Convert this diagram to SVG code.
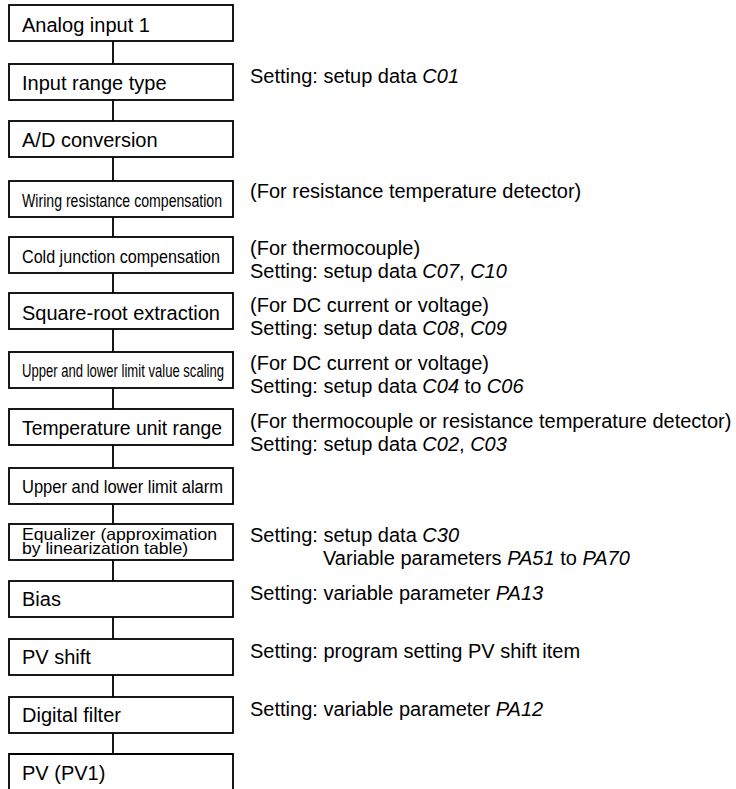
<svg xmlns="http://www.w3.org/2000/svg" width="736" height="789" viewBox="0 0 736 789">
<style>
.box{fill:#fff;stroke:#000;stroke-width:1.8}
.conn{stroke:#000;stroke-width:1.8;fill:none}
text{font-family:"Liberation Sans",Arial,Helvetica,sans-serif;fill:#000}
.lbl{font-size:20px}
.note{font-size:20px}
.it{font-style:italic}
</style>
<rect width="736" height="789" fill="#fff"/>
<g id="connectors">
<path class="conn" d="M113,41V64M113,100V121M113,157V181M113,217V237M113,273V293M113,329V352M113,388V409M113,445V468M113,504V524M113,560V581M113,617V639M113,675V697M113,733V754"/>
</g>
<g id="n1"><rect class="box" x="9" y="5" width="224" height="36"/><text class="lbl" x="22" y="32">Analog input 1</text></g>
<g id="n2"><rect class="box" x="9" y="64" width="224" height="36"/><text class="lbl" x="22" y="90">Input range type</text></g>
<g id="n3"><rect class="box" x="9" y="121" width="224" height="36"/><text class="lbl" x="22" y="147">A/D conversion</text></g>
<g id="n4"><rect class="box" x="9" y="181" width="224" height="36"/><text x="22" y="207" font-size="17.5" textLength="200" lengthAdjust="spacingAndGlyphs">Wiring resistance compensation</text></g>
<g id="n5"><rect class="box" x="9" y="237" width="224" height="36"/><text x="22" y="263" font-size="17.5" textLength="198" lengthAdjust="spacingAndGlyphs">Cold junction compensation</text></g>
<g id="n6"><rect class="box" x="9" y="293" width="224" height="36"/><text class="lbl" x="22" y="320">Square-root extraction</text></g>
<g id="n7"><rect class="box" x="9" y="352" width="224" height="36"/><text x="22" y="377" font-size="17.5" textLength="202" lengthAdjust="spacingAndGlyphs">Upper and lower limit value scaling</text></g>
<g id="n8"><rect class="box" x="9" y="409" width="224" height="36"/><text x="22" y="435" font-size="19.5" textLength="200" lengthAdjust="spacingAndGlyphs">Temperature unit range</text></g>
<g id="n9"><rect class="box" x="9" y="468" width="224" height="36"/><text x="22" y="493" font-size="18.5" textLength="201" lengthAdjust="spacingAndGlyphs">Upper and lower limit alarm</text></g>
<g id="n10"><rect class="box" x="9" y="524" width="224" height="36"/><text x="22" y="540" font-size="16.5" textLength="195" lengthAdjust="spacingAndGlyphs">Equalizer (approximation</text><text x="22" y="554" font-size="16.5" textLength="166" lengthAdjust="spacingAndGlyphs">by linearization table)</text></g>
<g id="n11"><rect class="box" x="9" y="581" width="224" height="36"/><text class="lbl" x="22" y="606">Bias</text></g>
<g id="n12"><rect class="box" x="9" y="639" width="224" height="36"/><text class="lbl" x="22" y="664">PV shift</text></g>
<g id="n13"><rect class="box" x="9" y="697" width="224" height="36"/><text class="lbl" x="22" y="722">Digital filter</text></g>
<g id="n14"><path class="box" d="M9,790V754H233V790"/><text class="lbl" x="22" y="780">PV (PV1)</text></g>
<g id="notes">
<text class="note" x="250" y="83">Setting: setup data <tspan class="it">C01</tspan></text>
<text class="note" x="250" y="198">(For resistance temperature detector)</text>
<text class="note" x="250" y="255">(For thermocouple)</text>
<text class="note" x="250" y="278">Setting: setup data <tspan class="it">C07</tspan>, <tspan class="it">C10</tspan></text>
<text class="note" x="250" y="312">(For DC current or voltage)</text>
<text class="note" x="250" y="335">Setting: setup data <tspan class="it">C08</tspan>, <tspan class="it">C09</tspan></text>
<text class="note" x="250" y="370">(For DC current or voltage)</text>
<text class="note" x="250" y="393">Setting: setup data <tspan class="it">C04</tspan> to <tspan class="it">C06</tspan></text>
<text class="note" x="250" y="428">(For thermocouple or resistance temperature detector)</text>
<text class="note" x="250" y="451">Setting: setup data <tspan class="it">C02</tspan>, <tspan class="it">C03</tspan></text>
<text class="note" x="250" y="542">Setting: setup data <tspan class="it">C30</tspan></text>
<text class="note" x="323" y="565">Variable parameters <tspan class="it">PA51</tspan> to <tspan class="it">PA70</tspan></text>
<text class="note" x="250" y="600">Setting: variable parameter <tspan class="it">PA13</tspan></text>
<text class="note" x="250" y="658">Setting: program setting PV shift item</text>
<text class="note" x="250" y="716">Setting: variable parameter <tspan class="it">PA12</tspan></text>
</g>
</svg>
